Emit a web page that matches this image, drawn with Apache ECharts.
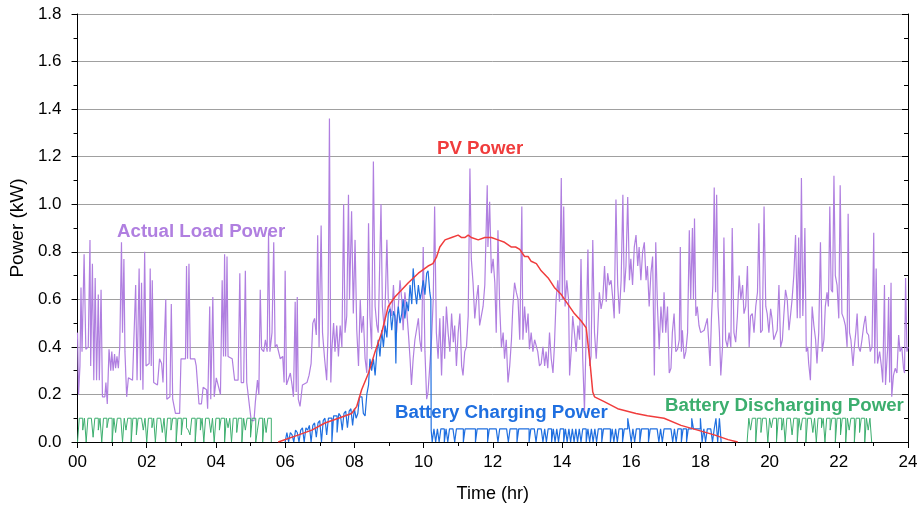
<!DOCTYPE html>
<html>
<head>
<meta charset="utf-8">
<style>
  html, body { margin: 0; padding: 0; background: #fff; }
  #chart-container { width: 923px; height: 509px; }
</style>
<script src="https://cdn.jsdelivr.net/npm/echarts@6/dist/echarts.min.js"></script>
</head>
<body>
<div id="chart-container"></div>
<script>
// Actual load power, [hour, kW]
var loadPower = [
  [0.00,0.46],[0.03,0.20],[0.07,0.32],[0.10,0.65],[0.13,0.38],[0.19,0.79],[0.24,0.39],[0.31,0.40],[0.36,0.85],[0.38,0.32],
  [0.43,0.75],[0.47,0.26],[0.51,0.69],[0.55,0.26],[0.60,0.62],[0.63,0.26],[0.68,0.64],[0.72,0.19],[0.79,0.19],[0.82,0.25],
  [0.86,0.16],[0.91,0.39],[0.96,0.30],[0.99,0.38],[1.03,0.30],[1.07,0.37],[1.10,0.31],[1.14,0.36],[1.18,0.31],[1.22,0.40],
  [1.27,0.84],[1.30,0.46],[1.34,0.77],[1.37,0.38],[1.42,0.19],[1.47,0.27],[1.59,0.26],[1.63,0.26],[1.68,0.66],[1.72,0.26],
  [1.78,0.73],[1.82,0.26],[1.85,0.67],[1.89,0.22],[1.94,0.80],[1.98,0.32],[2.07,0.33],[2.10,0.73],[2.13,0.32],[2.16,0.68],
  [2.20,0.25],[2.31,0.24],[2.37,0.35],[2.43,0.33],[2.47,0.25],[2.55,0.60],[2.58,0.18],[2.67,0.19],[2.71,0.58],[2.75,0.18],
  [2.83,0.12],[2.95,0.12],[2.99,0.35],[3.12,0.35],[3.15,0.74],[3.18,0.35],[3.22,0.75],[3.26,0.35],[3.39,0.35],[3.43,0.32],
  [3.51,0.16],[3.58,0.16],[3.63,0.23],[3.73,0.22],[3.76,0.14],[3.82,0.57],[3.85,0.18],[3.91,0.61],[3.95,0.19],[4.01,0.27],
  [4.13,0.20],[4.18,0.68],[4.22,0.36],[4.25,0.79],[4.28,0.36],[4.32,0.78],[4.35,0.36],[4.47,0.35],[4.54,0.26],[4.64,0.26],
  [4.69,0.71],[4.73,0.25],[4.80,0.25],[4.85,0.72],[4.89,0.25],[4.97,0.15],[5.02,0.09],[5.10,0.09],[5.14,0.17],[5.20,0.26],
  [5.24,0.20],[5.28,0.64],[5.32,0.39],[5.38,0.38],[5.43,0.43],[5.48,0.38],[5.52,0.88],[5.56,0.38],[5.62,0.46],[5.67,0.84],
  [5.71,0.40],[5.76,0.41],[5.81,0.41],[5.86,0.35],[5.93,0.36],[5.97,0.25],[6.00,0.72],[6.04,0.24],[6.15,0.29],[6.20,0.24],
  [6.24,0.19],[6.29,0.59],[6.32,0.21],[6.35,0.61],[6.38,0.18],[6.43,0.15],[6.50,0.24],[6.63,0.25],[6.69,0.28],[6.75,0.33],
  [6.80,0.50],[6.85,0.52],[6.90,0.45],[6.94,0.87],[6.98,0.40],[7.04,0.91],[7.08,0.46],[7.14,0.35],[7.20,0.26],[7.24,0.46],
  [7.28,1.36],[7.32,0.25],[7.35,0.39],[7.40,0.50],[7.44,0.38],[7.49,0.49],[7.54,0.36],[7.59,0.49],[7.64,0.40],[7.69,1.00],
  [7.73,0.46],[7.78,0.53],[7.83,1.04],[7.86,0.60],[7.92,0.97],[7.97,0.54],[8.02,0.85],[8.07,0.47],[8.12,0.32],[8.17,0.60],
  [8.21,0.46],[8.26,0.53],[8.31,0.35],[8.36,0.29],[8.41,0.92],[8.45,0.53],[8.50,0.39],[8.55,1.18],[8.60,0.57],[8.65,0.49],
  [8.69,0.46],[8.77,1.00],[8.81,0.57],[8.87,0.46],[8.94,0.85],[8.98,0.60],[9.08,0.53],[9.13,0.66],[9.17,0.54],[9.22,0.46],
  [9.27,0.57],[9.32,0.68],[9.37,0.60],[9.41,0.47],[9.46,0.63],[9.51,0.56],[9.56,0.46],[9.61,0.35],[9.65,0.24],[9.70,0.35],
  [9.75,0.43],[9.85,0.52],[9.89,0.43],[9.94,0.38],[9.99,0.82],[10.04,0.38],[10.09,0.18],[10.13,0.21],[10.18,0.32],[10.23,0.43],
  [10.28,0.60],[10.32,0.99],[10.37,0.46],[10.42,0.35],[10.47,0.52],[10.52,0.28],[10.57,0.53],[10.61,0.35],[10.66,0.57],[10.71,0.46],
  [10.76,0.38],[10.81,0.54],[10.86,0.42],[10.90,0.49],[10.95,0.32],[11.00,0.46],[11.05,0.54],[11.10,0.32],[11.14,0.28],[11.19,0.38],
  [11.24,0.40],[11.29,0.53],[11.34,1.15],[11.38,0.77],[11.43,0.67],[11.48,0.52],[11.53,0.60],[11.58,0.66],[11.62,0.49],[11.67,0.53],
  [11.72,0.57],[11.77,0.66],[11.84,1.08],[11.86,0.82],[11.91,1.01],[11.96,0.71],[12.01,0.77],[12.06,0.67],[12.10,0.46],[12.15,0.89],
  [12.20,0.57],[12.25,0.40],[12.30,0.46],[12.34,0.35],[12.39,0.43],[12.44,0.25],[12.49,0.32],[12.54,0.43],[12.58,0.57],[12.63,0.67],
  [12.68,0.63],[12.73,0.60],[12.78,0.43],[12.84,0.99],[12.87,0.43],[12.92,0.57],[12.97,0.46],[13.02,0.54],[13.06,0.39],[13.11,0.46],
  [13.16,0.38],[13.21,0.43],[13.30,0.38],[13.35,0.32],[13.40,0.33],[13.45,0.40],[13.50,0.32],[13.54,0.38],[13.59,0.31],[13.64,0.46],
  [13.69,0.35],[13.74,0.29],[13.78,0.40],[13.83,0.60],[13.88,0.68],[13.93,0.59],[13.98,1.11],[14.01,0.60],[14.05,0.99],[14.09,0.57],
  [14.14,0.68],[14.19,0.60],[14.22,0.28],[14.27,0.39],[14.31,0.53],[14.36,0.46],[14.41,0.38],[14.46,0.49],[14.51,0.43],[14.55,0.77],
  [14.60,0.35],[14.65,0.13],[14.70,0.46],[14.75,0.81],[14.80,0.32],[14.84,0.36],[14.89,0.85],[14.94,0.46],[14.99,0.35],[15.03,0.46],
  [15.08,0.63],[15.13,0.56],[15.18,0.60],[15.23,0.74],[15.28,0.59],[15.32,0.71],[15.37,0.66],[15.42,0.68],[15.47,0.60],[15.51,0.52],
  [15.56,1.02],[15.61,0.66],[15.66,0.54],[15.71,0.68],[15.76,1.04],[15.80,0.63],[15.85,0.74],[15.90,1.03],[15.95,0.68],[15.99,0.77],
  [16.04,0.66],[16.09,0.82],[16.14,0.87],[16.19,0.74],[16.23,0.82],[16.28,0.68],[16.33,0.80],[16.38,0.84],[16.43,0.68],[16.47,0.74],
  [16.52,0.57],[16.57,0.71],[16.62,0.78],[16.67,0.28],[16.71,0.84],[16.76,0.57],[16.81,0.39],[16.86,0.57],[16.91,0.46],[16.95,0.63],
  [17.00,0.46],[17.05,0.57],[17.10,0.29],[17.15,0.31],[17.19,0.46],[17.24,0.54],[17.29,0.38],[17.34,0.39],[17.39,0.43],[17.42,0.82],
  [17.45,0.38],[17.48,0.47],[17.53,0.35],[17.58,0.38],[17.63,0.46],[17.68,0.89],[17.72,0.60],[17.77,0.90],[17.80,0.60],[17.83,0.94],
  [17.87,0.53],[17.91,0.57],[17.96,0.49],[18.01,0.46],[18.11,0.47],[18.20,0.52],[18.25,0.40],[18.28,0.32],[18.32,0.52],[18.36,0.66],
  [18.40,1.07],[18.44,0.63],[18.47,1.04],[18.51,0.57],[18.55,0.46],[18.59,0.28],[18.64,0.40],[18.68,0.86],[18.73,0.43],[18.78,0.40],
  [18.83,0.46],[18.88,0.40],[18.92,0.90],[18.97,0.46],[19.02,0.42],[19.07,0.53],[19.12,0.70],[19.17,0.60],[19.22,0.66],[19.26,0.54],
  [19.31,0.57],[19.36,0.74],[19.41,0.40],[19.45,0.53],[19.50,0.54],[19.55,0.46],[19.60,0.57],[19.65,0.63],[19.69,0.92],[19.74,0.46],
  [19.79,0.47],[19.84,0.99],[19.89,0.57],[19.93,0.54],[19.98,0.46],[20.03,0.56],[20.07,0.52],[20.12,0.43],[20.17,0.45],[20.22,0.47],
  [20.27,0.66],[20.32,0.40],[20.37,0.43],[20.41,0.53],[20.46,0.64],[20.51,0.60],[20.56,0.47],[20.61,0.54],[20.65,0.60],[20.70,0.70],
  [20.75,0.87],[20.80,0.52],[20.84,0.86],[20.88,0.52],[20.92,1.11],[20.96,0.53],[20.99,0.68],[21.02,0.90],[21.06,0.38],[21.10,0.40],
  [21.13,0.33],[21.18,0.26],[21.23,0.57],[21.28,0.49],[21.33,0.43],[21.37,0.33],[21.42,0.46],[21.47,0.84],[21.52,0.38],[21.57,0.43],
  [21.61,0.57],[21.66,0.63],[21.70,0.57],[21.74,0.99],[21.78,0.64],[21.82,0.63],[21.86,1.12],[21.90,0.70],[21.95,0.66],[22.00,0.52],
  [22.04,1.08],[22.09,0.54],[22.14,0.52],[22.19,0.49],[22.24,0.40],[22.27,0.96],[22.31,0.46],[22.35,0.43],[22.41,0.32],[22.45,0.40],
  [22.49,0.46],[22.53,0.54],[22.57,0.40],[22.62,0.38],[22.67,0.43],[22.72,0.49],[22.77,0.53],[22.81,0.46],[22.86,0.45],[22.91,0.38],
  [22.96,0.40],[23.01,0.88],[23.04,0.33],[23.08,0.73],[23.12,0.33],[23.18,0.38],[23.23,0.32],[23.27,0.25],[23.32,0.66],[23.35,0.24],
  [23.41,0.39],[23.44,0.61],[23.47,0.25],[23.51,0.67],[23.53,0.19],[23.58,0.28],[23.63,0.31],[23.68,0.29],[23.73,0.45],[23.77,0.38],
  [23.82,0.40],[23.87,0.31],[23.90,0.29],[23.93,0.69],[23.97,0.38],[24.00,0.40]
];

// PV power, [hour, kW]
var pvPower = [
  [5.80,0],[6.39,0.03],[6.77,0.05],[7.15,0.08],[7.54,0.10],[7.92,0.12],[8.07,0.15],[8.21,0.22],[8.41,0.29],[8.60,0.38],
  [8.79,0.46],[8.98,0.57],[9.17,0.61],[9.37,0.64],[9.56,0.67],[9.85,0.71],[10.13,0.74],[10.27,0.75],[10.38,0.78],[10.47,0.82],
  [10.62,0.85],[10.81,0.86],[11.00,0.87],[11.10,0.86],[11.19,0.86],[11.29,0.87],[11.38,0.86],[11.58,0.85],[11.77,0.86],[11.96,0.86],
  [12.15,0.85],[12.34,0.84],[12.54,0.82],[12.66,0.82],[12.78,0.81],[12.92,0.78],[13.02,0.78],[13.11,0.76],[13.26,0.75],[13.40,0.72],
  [13.60,0.69],[13.78,0.65],[13.98,0.62],[14.17,0.58],[14.36,0.54],[14.55,0.51],[14.70,0.48],[14.80,0.35],[14.89,0.21],[14.94,0.19],
  [15.22,0.17],[15.61,0.14],[16.14,0.12],[16.47,0.11],[16.95,0.10],[17.44,0.07],[17.92,0.05],[18.40,0.03],[18.80,0.01],[19.08,0]
];

// battery charging during the morning ramp, [hour, kW]
var chargeRamp = [
  [6.00,0],[6.05,0.04],[6.10,0],[6.15,0.04],[6.20,0.03],[6.25,0],[6.30,0.05],[6.35,0.04],[6.40,0],[6.45,0.05],
  [6.50,0.06],[6.55,0],[6.60,0.06],[6.65,0.05],[6.70,0.07],[6.75,0],[6.80,0.07],[6.85,0.08],[6.90,0.02],[6.95,0.08],
  [7.00,0.09],[7.05,0],[7.10,0.09],[7.15,0.10],[7.20,0.03],[7.25,0.10],[7.30,0.10],[7.35,0],[7.40,0.11],[7.45,0.11],
  [7.50,0.04],[7.55,0.12],[7.60,0.11],[7.65,0.05],[7.70,0.12],[7.75,0.13],[7.80,0.06],[7.85,0.13],[7.90,0.14],[7.95,0.07],
  [8.00,0.14],[8.05,0.10],[8.10,0.12],[8.15,0.19],[8.22,0.19],[8.26,0.12],[8.31,0.11],[8.36,0.20],[8.41,0.24],[8.45,0.35],
  [8.50,0.30],[8.55,0.35],[8.60,0.28],[8.65,0.38],[8.69,0.43],[8.74,0.36],[8.79,0.47],[8.84,0.40],[8.89,0.49],[8.94,0.44],
  [8.98,0.54],[9.03,0.56],[9.08,0.47],[9.13,0.55],[9.17,0.53],[9.20,0.33],[9.22,0.50],[9.27,0.57],[9.32,0.50],[9.37,0.54],
  [9.41,0.60],[9.46,0.52],[9.51,0.59],[9.56,0.55],[9.61,0.66],[9.66,0.58],[9.70,0.73],[9.75,0.64],[9.80,0.58],[9.85,0.66],
  [9.90,0.60],[9.94,0.63],[9.99,0.68],[10.04,0.62],[10.09,0.71],[10.13,0.72],[10.18,0.63],[10.21,0.60],[10.22,0.05],[10.23,0.055]
];

// battery charging after 10:15, one value every 3 minutes (kW)
var chargeTailStart = 10.25;
var chargeTail = [
  0,0.055,0,0.055,0,0.055,0.055,0,0.055,0,
  0.055,0.055,0.055,0,0.055,0.055,0.055,0.055,0,0.055,
  0.055,0.055,0.055,0.055,0.055,0,0.055,0.055,0.055,0.055,
  0.055,0.055,0,0.055,0.055,0.055,0.055,0.055,0,0.055,
  0.055,0.055,0.055,0.055,0,0.055,0.055,0.055,0.055,0,
  0.055,0.055,0.055,0.055,0.055,0.055,0,0.055,0.055,0.055,
  0,0.055,0.055,0.055,0,0.055,0,0.055,0.055,0,
  0.055,0,0.055,0,0.055,0.055,0,0.055,0,0.055,
  0,0.055,0,0.055,0,0.055,0,0.055,0.055,0,
  0.055,0,0.055,0,0.055,0,0.055,0.055,0,0.055,
  0.055,0.055,0.055,0,0.055,0,0.055,0,0.055,0.055,
  0,0.055,0.055,0.1,0.055,0,0.055,0,0.055,0.055,
  0,0.055,0.055,0.055,0.055,0,0.055,0.055,0.055,0.055,
  0.055,0,0.055,0,0.055,0.055,0.055,0.055,0.055,0,
  0.055,0,0.055,0.055,0,0.055,0.055,0,0.055,0.055,
  0.1,0.055,0.055,0.055,0.055,0.1,0,0.055,0,0.055,
  0.055,0.055,0,0.055,0.1,0,0.1,0
];

// battery discharging, one value every 3 minutes (kW)
var dischargeNightStart = 0;
var dischargeNight = [
  0,0.1,0.1,0.05,0.1,0,0.1,0.1,0.1,0.02,0.1,0.1,0.05,0.1,0,0.1,0.1,0.06,0.1,0.1,
  0,0.1,0.04,0.1,0.1,0.1,0,0.1,0.05,0.1,0.1,0,0.1,0.1,0.03,0.1,0.1,0.1,0.05,0.1,
  0,0.1,0.1,0.06,0.1,0,0.1,0.1,0.1,0.04,0.1,0,0.1,0.1,0.05,0.1,0.1,0,0.1,0.1,
  0.03,0.1,0.1,0.06,0.05,0.03,0.1,0.1,0,0.1,0.1,0.05,0.1,0,0.1,0.1,0.1,0.04,0.1,0,
  0.1,0.1,0.05,0.1,0.1,0,0.1,0.06,0.1,0,0.1,0.1,0.04,0.1,0.1,0,0.1,0.05,0.1,0.1,
  0.02,0.1,0.1,0,0.05,0.1,0.1,0,0.1,0.04,0.1,0.1,0
];
var dischargeEveningStart = 19.35;
var dischargeEvening = [
  0,0.1,0.05,0.1,0.1,0,0.1,0.1,0.04,0.1,0.1,0.1,0,0.1,0.06,0.1,0.1,0,0.1,0.1,
  0.05,0.1,0,0.1,0.1,0.1,0.03,0.1,0.1,0,0.1,0.05,0.1,0.1,0,0.1,0.1,0.1,0.04,0.1,
  0,0.1,0.1,0.06,0.1,0,0.1,0.1,0.05,0.1,0.1,0,0.1,0.1,0.03,0.1,0.1,0,0.1,0.05,
  0.1,0.1,0,0.1,0.1,0.04,0.1,0.1,0,0.1,0.05,0.1,0
];
var sampleStep = 0.05; // hours

var hourTicks = ['00','02','04','06','08','10','12','14','16','18','20','22','24'];

function sampled(start, values) {
    return values.map(function (v, i) {
        return [+(start + i * sampleStep).toFixed(2), v];
    });
}

var chargeData = chargeRamp.concat(sampled(chargeTailStart, chargeTail));
var dischargeData = sampled(dischargeNightStart, dischargeNight)
    .concat([[5.62, null]])
    .concat(sampled(dischargeEveningStart, dischargeEvening));

var FONT = '"Liberation Sans", Arial, sans-serif';
var PURPLE = '#b07fe0';
var RED = '#f03c3c';
var BLUE = '#1f6fe0';
var GREEN = '#3cae6e';

var dom = document.getElementById('chart-container');
var myChart = echarts.init(dom, null, { renderer: 'canvas' });

var option = {
    animation: false,
    backgroundColor: '#fff',
    grid: { left: 75, right: 15, top: 14, bottom: 67 },
    xAxis: {
        type: 'value',
        min: 0,
        max: 24,
        interval: 2,
        name: 'Time (hr)',
        nameLocation: 'middle',
        nameGap: 43,
        nameTextStyle: { fontFamily: FONT, fontSize: 18, color: '#000' },
        axisLine: { onZero: false, lineStyle: { color: '#000', width: 1 } },
        axisTick: { length: 6, lineStyle: { color: '#000' } },
        minorTick: { show: true, splitNumber: 2, length: 4, lineStyle: { color: '#000' } },
        axisLabel: {
            margin: 12,
            fontFamily: FONT,
            fontSize: 17,
            color: '#000',
            formatter: function (v) { return hourTicks[v / 2]; }
        },
        splitLine: { show: false }
    },
    yAxis: [
        {
            type: 'value',
            min: 0,
            max: 1.8,
            interval: 0.2,
            name: 'Power (kW)',
            nameLocation: 'middle',
            nameGap: 50,
            nameTextStyle: { fontFamily: FONT, fontSize: 19, color: '#000' },
            axisLine: { show: true, lineStyle: { color: '#000', width: 1 } },
            axisTick: { show: true, length: 6, lineStyle: { color: '#000' } },
            minorTick: { show: true, splitNumber: 2, length: 4, lineStyle: { color: '#000' } },
            axisLabel: {
                margin: 16,
                fontFamily: FONT,
                fontSize: 17,
                color: '#000',
                formatter: function (v) { return v.toFixed(1); }
            },
            splitLine: { show: true, lineStyle: { color: '#a0a0a0', width: 1 } }
        },
        {
            type: 'value',
            position: 'right',
            min: 0,
            max: 1.8,
            interval: 0.2,
            axisLine: { show: true, lineStyle: { color: '#000', width: 1 } },
            axisTick: { show: true, inside: true, length: 6, lineStyle: { color: '#000' } },
            minorTick: { show: true, splitNumber: 2, length: 4, lineStyle: { color: '#000' } },
            axisLabel: { show: false },
            splitLine: { show: false }
        }
    ],
    series: [
        {
            name: 'Actual Load Power',
            type: 'line',
            data: loadPower,
            showSymbol: false,
            lineStyle: { color: PURPLE, width: 1.2 },
            itemStyle: { color: PURPLE }
        },
        {
            name: 'Battery Discharging Power',
            type: 'line',
            step: 'end',
            data: dischargeData,
            connectNulls: false,
            showSymbol: false,
            lineStyle: { color: GREEN, width: 1 },
            itemStyle: { color: GREEN }
        },
        {
            name: 'Battery Charging Power',
            type: 'line',
            step: 'end',
            data: chargeData,
            showSymbol: false,
            lineStyle: { color: BLUE, width: 1.2 },
            itemStyle: { color: BLUE }
        },
        {
            name: 'PV Power',
            type: 'line',
            data: pvPower,
            showSymbol: false,
            lineStyle: { color: RED, width: 1.5 },
            itemStyle: { color: RED }
        }
    ],
    graphic: [
        { type: 'text', left: 117, top: 222, style: { text: 'Actual Load Power', fill: PURPLE, font: 'bold 18.7px ' + FONT } },
        { type: 'text', left: 437, top: 139, style: { text: 'PV Power', fill: RED, font: 'bold 18.7px ' + FONT } },
        { type: 'text', left: 395, top: 403, style: { text: 'Battery Charging Power', fill: BLUE, font: 'bold 18.7px ' + FONT } },
        { type: 'text', left: 665, top: 396, style: { text: 'Battery Discharging Power', fill: GREEN, font: 'bold 18.7px ' + FONT } }
    ]
};

myChart.setOption(option);
window.addEventListener('resize', myChart.resize);
</script>
</body>
</html>
